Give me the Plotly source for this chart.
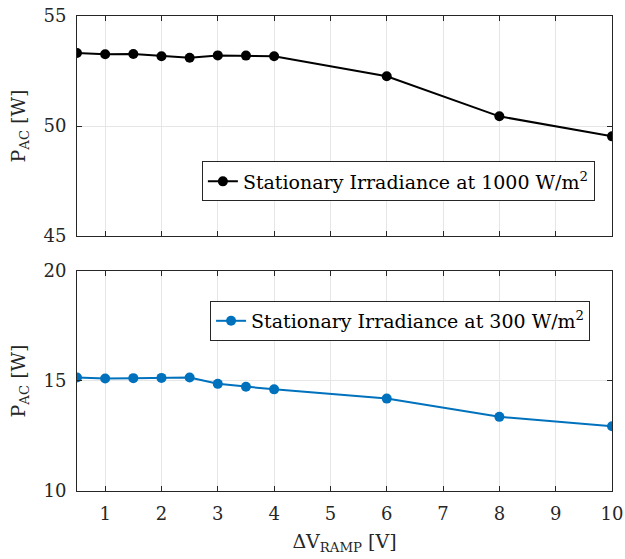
import plotly.graph_objects as go
from plotly.subplots import make_subplots

# Ramp step size (V)
dv_ramp = [0.5, 1, 1.5, 2, 2.5, 3, 3.5, 4, 6, 8, 10]
# AC output power (W) at two stationary irradiance levels
p_ac_1000 = [53.32, 53.26, 53.27, 53.17, 53.10, 53.21, 53.20, 53.17, 52.26, 50.44, 49.53]
p_ac_300 = [15.16, 15.11, 15.13, 15.14, 15.16, 14.87, 14.74, 14.62, 14.20, 13.37, 12.94]

x_ticks = [1, 2, 3, 4, 5, 6, 7, 8, 9, 10]

FONT = "DejaVu Serif"
AX = "#262626"
GRID = "#e6e6e6"

fig = make_subplots(rows=2, cols=1, vertical_spacing=0.0736)

fig.add_trace(go.Scatter(
    x=dv_ramp, y=p_ac_1000, mode="lines+markers",
    name="Stationary Irradiance at 1000 W/m<sup>2</sup>",
    line=dict(color="black", width=2), marker=dict(size=10, color="black"),
    legend="legend"), row=1, col=1)

fig.add_trace(go.Scatter(
    x=dv_ramp, y=p_ac_300, mode="lines+markers",
    name="Stationary Irradiance at 300 W/m<sup>2</sup>",
    line=dict(color="#0072BD", width=2), marker=dict(size=10, color="#0072BD"),
    legend="legend2"), row=2, col=1)

common_x = dict(range=[0.5, 10], tickvals=x_ticks, showgrid=True, gridcolor=GRID,
                gridwidth=1, ticks="inside", ticklen=5, tickcolor=AX,
                showline=True, linecolor=AX, linewidth=1, mirror="ticks",
                zeroline=False, automargin=False, ticklabelstandoff=6,
                tickfont=dict(family=FONT, size=18, color=AX))
fig.update_xaxes(**common_x)
fig.update_xaxes(showticklabels=False, row=1, col=1)
fig.update_xaxes(title=dict(text="ΔV<sub>RAMP</sub> [V]", font=dict(family=FONT, size=19, color=AX),
                            standoff=12), row=2, col=1)

common_y = dict(showgrid=True, gridcolor=GRID, gridwidth=1, ticks="inside", ticklen=5,
                tickcolor=AX, showline=True, linecolor=AX, linewidth=1, mirror="ticks",
                zeroline=False, automargin=False, ticklabelstandoff=6,
                tickfont=dict(family=FONT, size=18, color=AX),
                title=dict(text="P<sub>AC</sub> [W]", font=dict(family=FONT, size=19, color=AX),
                           standoff=12))
fig.update_yaxes(**common_y)
fig.update_yaxes(range=[45, 55], tickvals=[45, 50, 55], row=1, col=1)
fig.update_yaxes(range=[10, 20], tickvals=[10, 15, 20], row=2, col=1)

legend_style = dict(bgcolor="white", bordercolor=AX, borderwidth=1,
                    font=dict(family=FONT, size=19, color="black"),
                    xanchor="right", yanchor="middle", itemwidth=30)

fig.update_layout(
    width=625, height=559,
    margin=dict(l=77, r=13, t=16, b=68),
    paper_bgcolor="white", plot_bgcolor="white",
    showlegend=True,
    legend=dict(x=0.968, y=0.6516, **legend_style),
    legend2=dict(x=0.959, y=0.358, **legend_style),
)

fig.write_html("out.html")
